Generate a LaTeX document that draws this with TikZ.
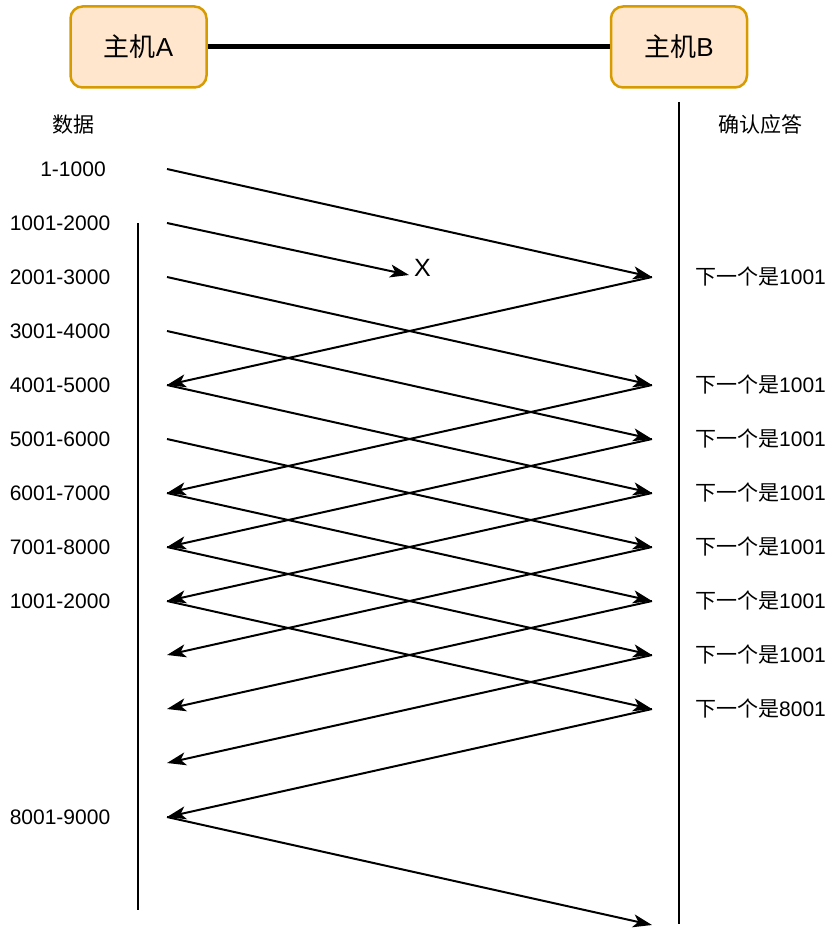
\documentclass[tikz,border=0pt]{standalone}
\usepackage{fontspec}
\setmainfont{Liberation Sans}
\newfontfamily\cjk{Noto Sans CJK SC}
\usetikzlibrary{arrows.meta}
\definecolor{boxfill}{HTML}{FFE6CC}
\definecolor{boxdraw}{HTML}{D79B00}
\begin{document}
\begin{tikzpicture}[x=1pt,y=-1pt,
  host/.style={draw=boxdraw,fill=boxfill,line width=2.5pt,rounded corners=12pt,
    minimum width=136pt,minimum height=81pt,inner sep=0pt,font=\fontsize{26}{30}\selectfont},
  lbl/.style={inner sep=0pt,font=\fontsize{21}{25}\selectfont},
  msg/.style={line width=2pt,-{Stealth[length=19pt,width=13pt,inset=5pt]}},
  life/.style={line width=2.5pt}]
\useasboundingbox (0,0) rectangle (832,931);
% hosts
\node[host] (A) at (138.5,47) {{\cjk 主机}A};
\node[host] (B) at (679,47) {{\cjk 主机}B};
\draw[line width=5pt] (A.east) -- (B.west);
% lifelines
\coordinate (la) at (138,223);
\coordinate (lb) at (138,910);
\coordinate (ra) at (679,102);
\coordinate (rb) at (679,924);
\draw[life] (la) -- (lb);
\draw[life] (ra) -- (rb);
% headers
\node[lbl] (hd) at (73.5,125) {\cjk 数据};
\node[lbl] (ha) at (760,125) {\cjk 确认应答};
% row coordinates
\foreach \k in {1,...,15}{
  \pgfmathsetmacro{\yy}{169+54*(\k-1)}
  \coordinate (l\k) at (167,\yy);
  \coordinate (r\k) at (652,\yy);
}
% data labels
\node[lbl] (d1) at (73,169) {1-1000};
\node[lbl] (d2) at (60,223) {1001-2000};
\node[lbl] (d3) at (60,277) {2001-3000};
\node[lbl] (d4) at (60,331) {3001-4000};
\node[lbl] (d5) at (60,385) {4001-5000};
\node[lbl] (d6) at (60,439) {5001-6000};
\node[lbl] (d7) at (60,493) {6001-7000};
\node[lbl] (d8) at (60,547) {7001-8000};
\node[lbl] (d9) at (60,601) {1001-2000};
\node[lbl] (d13) at (60,817) {8001-9000};
% ack labels
\foreach \k in {3,5,6,7,8,9,10}{
  \pgfmathsetmacro{\yy}{169+54*(\k-1)}
  \node[lbl,anchor=west] (a\k) at (695,\yy) {{\cjk 下一个是}1001};
}
\node[lbl,anchor=west] (a11) at (695,709) {{\cjk 下一个是}8001};
% lost packet
\coordinate (lost) at (409,275);
\node[inner sep=0pt,font=\fontsize{25}{28}\selectfont] (x) at (422.5,268) {X};
\draw[msg] (l2) -- (lost);
% data segments
\draw[msg] (l1) -- (r3);
\draw[msg] (l3) -- (r5);
\draw[msg] (l4) -- (r6);
\draw[msg] (l5) -- (r7);
\draw[msg] (l6) -- (r8);
\draw[msg] (l7) -- (r9);
\draw[msg] (l8) -- (r10);
\draw[msg] (l9) -- (r11);
\draw[msg] (l13) -- (r15);
% acks
\draw[msg] (r3) -- (l5);
\draw[msg] (r5) -- (l7);
\draw[msg] (r6) -- (l8);
\draw[msg] (r7) -- (l9);
\draw[msg] (r8) -- (l10);
\draw[msg] (r9) -- (l11);
\draw[msg] (r10) -- (l12);
\draw[msg] (r11) -- (l13);
\end{tikzpicture}
\end{document}
